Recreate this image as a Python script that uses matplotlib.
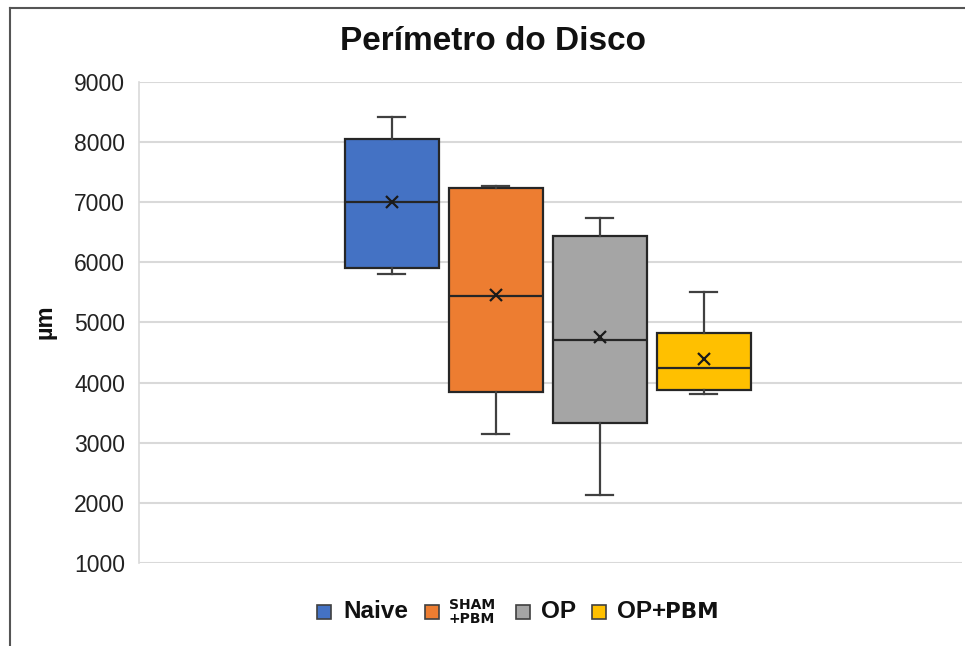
import matplotlib
matplotlib.use('Agg')
import matplotlib.pyplot as plt
from matplotlib.lines import Line2D
from matplotlib.patches import Rectangle

plt.rcParams['font.family'] = ['Liberation Sans', 'DejaVu Sans']

# dados
grupos = ['Naive', 'SHAM\n+PBM', 'OP', 'OP+']
whis_min = [5810, 3140, 2130, 3810]
q1 = [5905, 3850, 3335, 3880]
mediana = [7005, 5440, 4710, 4250]
q3 = [8055, 7235, 6440, 4820]
whis_max = [8420, 7270, 6740, 5515]
media = [7005, 5460, 4755, 4390]
cores = ['#4472C4', '#ED7D31', '#A5A5A5', '#FFC000']
yticks = [1000, 2000, 3000, 4000, 5000, 6000, 7000, 8000, 9000]

W, H = 965, 646
fig = plt.figure(figsize=(W / 100, H / 100), dpi=100)
ax = fig.add_axes([139 / W, 1 - 563 / H, (962 - 139) / W, (563 - 82) / H])

stats = []
for i in range(len(grupos)):
    stats.append(dict(whislo=whis_min[i], q1=q1[i], med=mediana[i], q3=q3[i],
                      whishi=whis_max[i], mean=media[i], fliers=[]))

pos = [-1.5, -0.5, 0.5, 1.5]
bp = ax.bxp(stats, positions=pos, widths=0.9, capwidths=0.26, patch_artist=True,
            showmeans=True, showfliers=False,
            boxprops=dict(edgecolor='#262626', linewidth=1.6),
            medianprops=dict(color='#262626', linewidth=1.6),
            whiskerprops=dict(color='#404040', linewidth=1.6),
            capprops=dict(color='#404040', linewidth=1.6),
            meanprops=dict(marker='x', markeredgecolor='#1a1a1a', markersize=9,
                           markeredgewidth=1.6))
for b, c in zip(bp['boxes'], cores):
    b.set_facecolor(c)
    b.set_zorder(3)
for k in ['medians', 'whiskers', 'caps', 'means']:
    for a in bp[k]:
        a.set_zorder(4)

ax.set_xlim(-3.93, 3.98)
ax.set_ylim(1000, 9000)
ax.set_yticks(yticks)
ax.set_yticklabels([str(v) for v in yticks])
ax.set_xticks([])
ax.tick_params(axis='y', length=0, pad=10, labelsize=16.5, labelcolor='#222222')
ax.grid(axis='y', color='#d9d9d9', linewidth=1.5)
ax.set_axisbelow(True)
for s in ['top', 'right', 'bottom']:
    ax.spines[s].set_visible(False)
ax.spines['left'].set_color('#d9d9d9')
ax.spines['left'].set_linewidth(1.2)

fig.text(493 / W, 1 - 42 / H, 'Perímetro do Disco', ha='center', va='center',
         fontsize=24, fontweight='bold', color='#111111')
fig.text(45 / W, 1 - 322 / H, 'µm', ha='center', va='center', rotation=90,
         fontsize=17, fontweight='bold', color='#111111')

# legenda
leg_sq = [317, 425, 516, 592]
leg_tx = [343, 449, 541, 617]
leg_fs = [17.5, 10, 17.5, 17.5]
ly = 1 - 612 / H
for i in range(len(grupos)):
    fig.add_artist(Rectangle((leg_sq[i] / W, ly - 7 / H), 14 / W, 14 / H,
                             facecolor=cores[i], edgecolor='#404040', linewidth=1.2,
                             transform=fig.transFigure))
    fam = ['DejaVu Sans'] if i == 1 else ['Liberation Sans']
    fig.text(leg_tx[i] / W, ly, grupos[i], ha='left', va='center', fontsize=leg_fs[i],
             fontweight='bold', family=fam, color='#111111', linespacing=0.95)
fig.text(665 / W, ly, 'PBM', ha='left', va='center', fontsize=15.5,
         fontweight='bold', family=['DejaVu Sans'], color='#111111')

# moldura
fig.add_artist(Line2D([9.5 / W, 9.5 / W], [0, 1 - 8 / H], color='#555555', linewidth=1.5))
fig.add_artist(Line2D([9.5 / W, 1], [1 - 8 / H, 1 - 8 / H], color='#555555', linewidth=1.5))

fig.savefig('out.png', dpi=100)
